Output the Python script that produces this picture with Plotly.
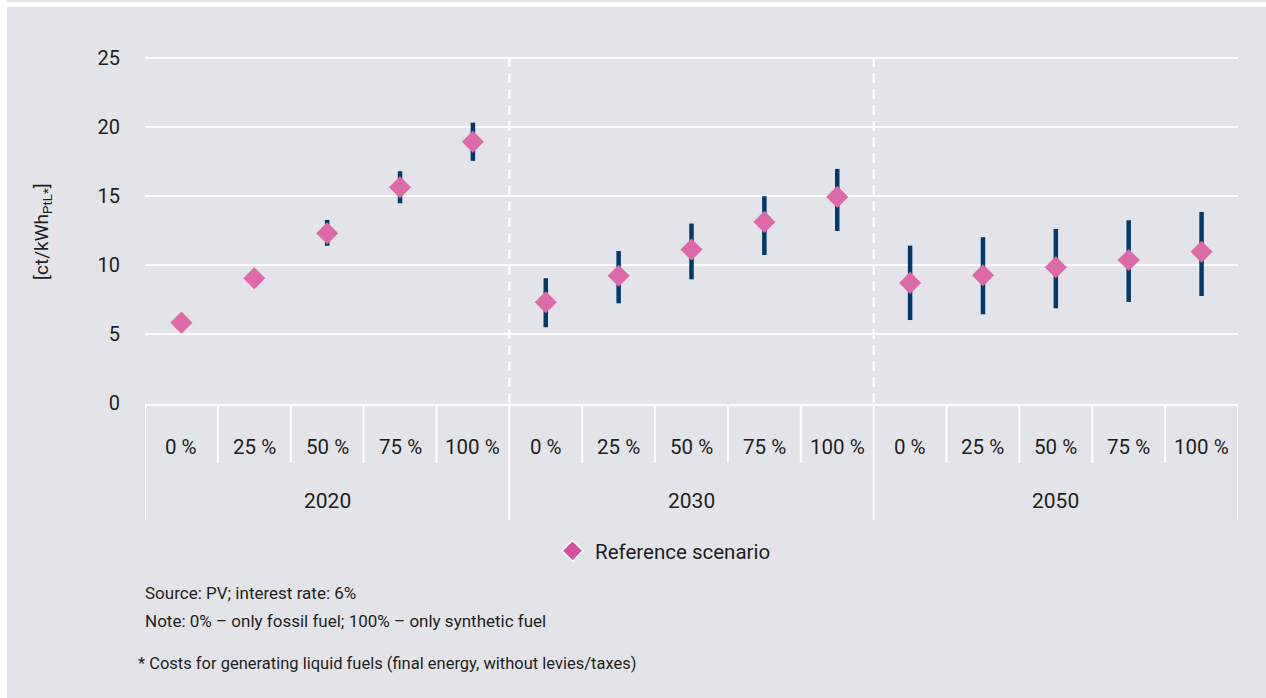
import plotly.graph_objects as go

# ---- data ----
years = ["2020", "2030", "2050"]
shares = ["0 %", "25 %", "50 %", "75 %", "100 %"]
value = [5.82, 9.04, 12.30, 15.63, 18.93,
         7.30, 9.22, 11.12, 13.12, 14.93,
         8.70, 9.25, 9.83, 10.36, 10.96]
low = [5.82, 9.04, 11.39, 14.47, 17.54,
       5.49, 7.22, 8.96, 10.72, 12.46,
       6.01, 6.43, 6.86, 7.32, 7.75]
high = [5.82, 9.04, 13.26, 16.79, 20.31,
        9.04, 11.01, 13.00, 14.98, 16.96,
        11.40, 12.01, 12.61, 13.24, 13.84]
yticks = [0, 5, 10, 15, 20, 25]
series_name = "Reference scenario"
notes = ["Source: PV; interest rate: 6%",
         "Note: 0% – only fossil fuel; 100% – only synthetic fuel"]
footnote = "* Costs for generating liquid fuels (final energy, without levies/taxes)"

# ---- layout geometry ----
W, H = 1266, 698
L, R, T, B = 145, 1238, 51, 403
BG = "#e3e4e9"
TXT = "#1e1e1e"
FONT = "Roboto, Noto Sans, sans-serif"


def px_x(px):
    return (px - L) / (R - L)


def px_y(py):
    return (B - py) / (B - T)


n_sub = len(shares)
xs = list(range(len(value)))
plus = [h - v for h, v in zip(high, value)]
minus = [v - lo for v, lo in zip(value, low)]

fig = go.Figure()
fig.add_trace(go.Scatter(
    x=xs, y=value, mode="markers", showlegend=False, hoverinfo="skip",
    marker=dict(symbol="diamond", size=17, color="#dd6aa7", line=dict(width=0)),
    error_y=dict(type="data", symmetric=False, array=plus, arrayminus=minus,
                 color="#003a6c", thickness=4.5, width=0),
))
fig.add_trace(go.Scatter(
    x=[None], y=[None], mode="markers", name=series_name,
    marker=dict(symbol="diamond", size=17, color="#d6519c",
                line=dict(width=1.5, color="white")),
))

shapes = []
# white frame strips (top / left)
shapes.append(dict(type="rect", xref="paper", yref="paper",
                   x0=px_x(0), x1=px_x(W), y0=px_y(2), y1=px_y(7),
                   fillcolor="white", line=dict(width=0), layer="below"))
shapes.append(dict(type="rect", xref="paper", yref="paper",
                   x0=px_x(0), x1=px_x(7), y0=px_y(0), y1=px_y(H),
                   fillcolor="white", line=dict(width=0), layer="below"))
# dashed group separators in plot
for g in range(1, len(years)):
    xb = g * n_sub - 0.5
    shapes.append(dict(type="line", xref="x", yref="y", x0=xb, x1=xb, y0=0, y1=25,
                       line=dict(color="white", width=2, dash="10px,6px")))
# separators in label area
for k in range(len(value) + 1):
    xb = k - 0.5
    if k % n_sub == 0:
        y1 = px_y(520)
    else:
        y1 = px_y(463)
    shapes.append(dict(type="line", xref="x", yref="paper", x0=xb, x1=xb,
                       y0=px_y(405), y1=y1, line=dict(color="white", width=2)))
shapes.append(dict(type="line", xref="paper", yref="paper", x0=0, x1=1,
                   y0=px_y(405), y1=px_y(405), line=dict(color="white", width=2)))

annotations = []
for i in xs:
    annotations.append(dict(x=i, y=px_y(447), xref="x", yref="paper",
                            text=shares[i % n_sub], showarrow=False,
                            font=dict(size=20.5, color=TXT, family=FONT),
                            xanchor="center", yanchor="middle"))
for g, yr in enumerate(years):
    annotations.append(dict(x=g * n_sub + (n_sub - 1) / 2, y=px_y(501), xref="x", yref="paper",
                            text=yr, showarrow=False,
                            font=dict(size=21, color=TXT, family=FONT),
                            xanchor="center", yanchor="middle"))
annotations.append(dict(x=px_x(42), y=px_y(232), xref="paper", yref="paper",
                        text="[ct/kWh<sub>PtL*</sub>]", textangle=-90, showarrow=False,
                        font=dict(size=19, color=TXT, family=FONT),
                        xanchor="center", yanchor="middle"))
for j, t in enumerate(notes):
    annotations.append(dict(x=px_x(143), y=px_y(593 + 28 * j), xref="paper", yref="paper",
                            text=t, showarrow=False,
                            font=dict(size=17, color=TXT, family=FONT),
                            xanchor="left", yanchor="middle"))
annotations.append(dict(x=px_x(136), y=px_y(663), xref="paper", yref="paper",
                        text=footnote, showarrow=False,
                        font=dict(size=16.5, color=TXT, family=FONT),
                        xanchor="left", yanchor="middle"))

fig.update_layout(
    width=W, height=H,
    margin=dict(l=L, r=W - R, t=T, b=H - B, pad=0),
    paper_bgcolor=BG, plot_bgcolor=BG,
    font=dict(family=FONT, color=TXT, size=19),
    shapes=shapes, annotations=annotations,
    showlegend=True, hovermode=False,
    legend=dict(orientation="h", x=px_x(550), y=px_y(551), xanchor="left", yanchor="middle",
                itemwidth=35,
                bgcolor="rgba(0,0,0,0)", font=dict(size=20.5, color=TXT, family=FONT)),
    xaxis=dict(range=[-0.5, len(value) - 0.5], showgrid=False, zeroline=False,
               showticklabels=False, showline=False, fixedrange=True),
    yaxis=dict(range=[0, 25.5], tickvals=yticks, showgrid=True, gridcolor="white",
               gridwidth=2, zeroline=False, showline=False, ticks="outside",
               ticklen=20, tickcolor="rgba(0,0,0,0)", fixedrange=True,
               tickfont=dict(size=20, color=TXT, family=FONT)),
)

fig.write_html("out.html", config={"displayModeBar": False, "staticPlot": True},
               post_script="document.body.style.margin='0';document.body.style.padding='0';")
